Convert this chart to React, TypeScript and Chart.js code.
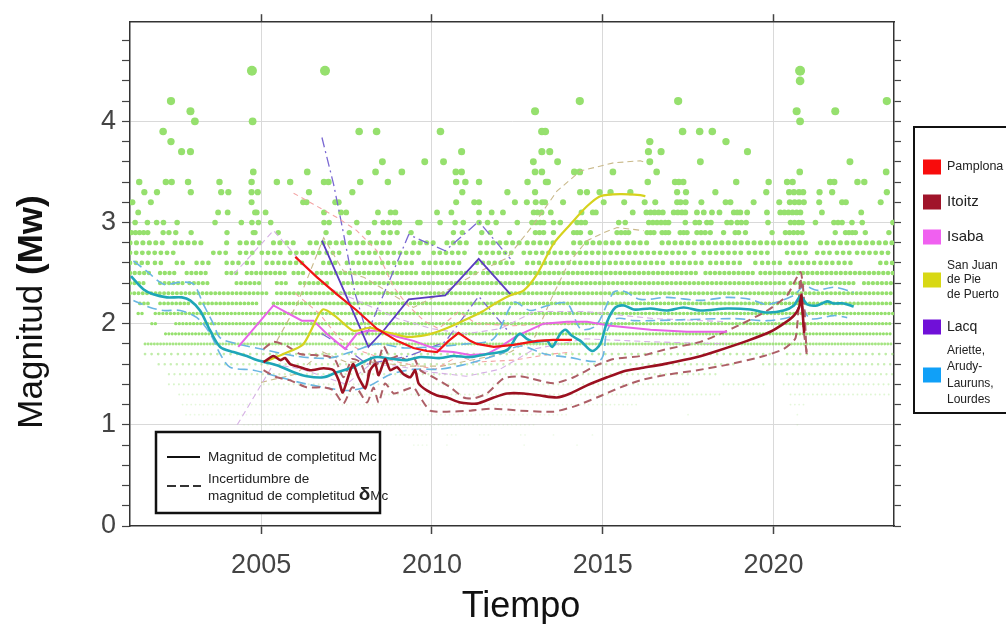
import React, { useEffect, useRef } from "react";
import { Chart, registerables } from "chart.js";

Chart.register(...registerables);

const FONT = '"Liberation Sans", Arial, Helvetica, sans-serif';

// ---------- axes ----------
const X_MIN = 2001.16;
const X_MAX = 2023.53;
const Y_MIN = 0;
const Y_MAX = 4.98;
const X_TICKS = [2005, 2010, 2015, 2020];
const Y_TICKS = [0, 0.2, 0.4, 0.6, 0.8, 1, 1.2, 1.4, 1.6, 1.8, 2, 2.2, 2.4, 2.6, 2.8, 3, 3.2, 3.4, 3.6, 3.8, 4, 4.2, 4.4, 4.6, 4.8];
const X_TITLE = "Tiempo";
const Y_TITLE_A = "Magnitud ";
const Y_TITLE_B = "(Mw)";

// ---------- legend texts ----------
const LEGEND_NAMES = [["Pamplona"], ["Itoitz"], ["Isaba"], ["San Juan", "de Pie", "de Puerto"], ["Lacq"], ["Ariette,", "Arudy-", "Lauruns,", "Lourdes"]];
const LEGEND_COLORS = ["#f80c0c", "#a0142a", "#f060f0", "#d8d814", "#7010d8", "#10a0f8"];
const KEY_SOLID = "Magnitud de completitud Mc";
const KEY_DASH_1 = "Incertidumbre de";
const KEY_DASH_2 = "magnitud de completitud ";
const KEY_DELTA = "δ";
const KEY_MC = "Mc";

// ---------- earthquakes (individual dots, magnitude >= 2.9) ----------
const EQ_4_5 = [2004.73, 2006.87, 2020.78];
const EQ_4_4 = [2020.78];
const EQ_4_2 = [2002.36, 2014.33, 2017.21, 2023.32];
const EQ_4_1 = [2002.93, 2013.02, 2020.68, 2021.81];
const EQ_4_0 = [2003.06, 2004.75, 2020.78];
const EQ_3_9 = [2002.13, 2007.87, 2008.38, 2010.25, 2013.22, 2013.32, 2017.34, 2017.84, 2018.21];
const EQ_3_8 = [2002.36, 2016.38, 2018.61];
const EQ_3_7 = [2002.67, 2002.93, 2010.87, 2013.22, 2013.45, 2016.34, 2016.71, 2019.24];
const EQ_3_6 = [2008.55, 2009.79, 2010.34, 2012.97, 2013.68, 2016.38, 2017.86, 2022.24];
const EQ_3_5 = [2004.77, 2006.35, 2008.35, 2009.12, 2010.7, 2010.87, 2013.02, 2013.22, 2014.17, 2014.33, 2015.3, 2016.58, 2020.77, 2023.3];
const EQ_3_4 = [2001.43, 2002.21, 2002.38, 2002.86, 2003.78, 2004.72, 2005.46, 2005.85, 2006.84, 2006.97, 2007.9, 2008.71, 2010.71, 2010.98, 2011.38, 2012.8, 2013.34, 2013.39, 2016.32, 2017.12, 2017.23, 2017.36, 2018.91, 2019.86, 2020.4, 2020.56, 2021.66, 2021.78, 2022.46, 2022.66];
const EQ_3_3 = [2001.58, 2001.95, 2002.94, 2003.83, 2004.04, 2004.72, 2004.9, 2006.4, 2007.67, 2010.89, 2012.21, 2013.02, 2014.34, 2014.54, 2014.91, 2015.23, 2015.81, 2017.18, 2017.44, 2018.3, 2019.79, 2020.46, 2020.6, 2020.75, 2020.87, 2021.35, 2021.72, 2023.32];
const EQ_3_2 = [2001.23, 2001.77, 2004.72, 2006.23, 2006.33, 2007.17, 2007.27, 2010.71, 2011.24, 2011.38, 2012.43, 2012.78, 2013.04, 2013.23, 2013.31, 2013.84, 2015.03, 2015.63, 2016.23, 2016.54, 2017.18, 2017.28, 2017.43, 2017.89, 2018.6, 2018.74, 2019.42, 2020.17, 2020.48, 2020.62, 2020.75, 2020.89, 2021.34, 2022.01, 2022.12, 2023.14];
const EQ_3_1 = [2001.4, 2003.74, 2004.02, 2004.82, 2004.87, 2005.13, 2006.84, 2007.34, 2007.49, 2008.42, 2008.79, 2008.93, 2010.15, 2010.57, 2011.38, 2011.75, 2012.08, 2012.98, 2013.09, 2013.21, 2013.48, 2014.38, 2014.71, 2014.8, 2015.88, 2016.28, 2016.4, 2016.52, 2016.64, 2016.76, 2017.08, 2017.2, 2017.32, 2017.42, 2017.76, 2017.96, 2018.2, 2018.42, 2018.84, 2018.94, 2019.03, 2019.23, 2019.81, 2020.2, 2020.32, 2020.44, 2020.56, 2020.68, 2020.79, 2021.42, 2022.57];
const EQ_3_0 = [2001.31, 2001.67, 2001.94, 2002.14, 2002.54, 2003.65, 2004.42, 2004.73, 2004.92, 2005.28, 2006.84, 2006.99, 2007.8, 2008.32, 2008.57, 2008.72, 2008.91, 2009.05, 2009.59, 2009.65, 2010.24, 2010.68, 2010.92, 2011.38, 2011.63, 2011.88, 2012.5, 2012.93, 2013.05, 2013.17, 2013.27, 2013.56, 2013.76, 2014.25, 2014.37, 2014.49, 2015.47, 2015.66, 2016.35, 2016.47, 2016.59, 2016.71, 2016.83, 2016.93, 2017.42, 2017.71, 2017.83, 2018.05, 2018.17, 2018.64, 2018.76, 2018.94, 2019.06, 2019.2, 2019.84, 2020.5, 2020.62, 2020.74, 2020.84, 2021.23, 2021.77, 2021.89, 2022.01, 2022.3, 2022.6, 2023.5];
const EQ_2_9 = [2001.2, 2001.32, 2001.44, 2001.56, 2001.68, 2002.13, 2002.3, 2002.5, 2002.95, 2004.0, 2004.77, 2004.82, 2005.5, 2006.9, 2007.58, 2008.14, 2008.58, 2008.78, 2008.98, 2009.39, 2010.63, 2010.89, 2011.46, 2011.71, 2012.27, 2013.03, 2013.15, 2013.27, 2013.56, 2014.15, 2014.25, 2014.35, 2014.64, 2015.42, 2015.54, 2015.66, 2015.76, 2016.3, 2016.4, 2016.5, 2016.74, 2016.84, 2016.93, 2017.27, 2017.37, 2017.47, 2017.76, 2017.88, 2018.0, 2018.15, 2018.54, 2018.88, 2018.98, 2019.18, 2019.96, 2020.35, 2020.47, 2020.59, 2020.71, 2020.84, 2021.81, 2022.11, 2022.21, 2022.31, 2022.4, 2022.69, 2023.38];

const EQ_GROUPS: [number, number[]][] = [
  [4.5, EQ_4_5], [4.4, EQ_4_4], [4.2, EQ_4_2], [4.1, EQ_4_1], [4.0, EQ_4_0], [3.9, EQ_3_9], [3.8, EQ_3_8],
  [3.7, EQ_3_7], [3.6, EQ_3_6], [3.5, EQ_3_5], [3.4, EQ_3_4], [3.3, EQ_3_3], [3.2, EQ_3_2], [3.1, EQ_3_1],
  [3.0, EQ_3_0], [2.9, EQ_2_9],
];

// ---------- dense rows of earthquakes (year spans where dots are continuous) ----------
const ROW_2_8: [number, number][] = [[2001.16, 2002.23], [2002.48, 2003.26], [2003.99, 2004.09], [2004.38, 2004.97], [2005.36, 2005.55], [2005.75, 2006.04], [2006.43, 2006.63], [2006.82, 2007.41], [2007.61, 2008.0], [2008.19, 2008.88], [2009.47, 2010.05], [2010.44, 2011.03], [2011.42, 2012.59], [2012.79, 2013.57], [2014.15, 2015.52], [2015.72, 2016.44], [2016.74, 2017.71], [2017.91, 2018.2], [2018.3, 2019.52], [2019.62, 2021.13], [2021.38, 2021.77], [2021.96, 2023.5]];
const ROW_2_7: [number, number][] = [[2001.16, 2002.43], [2003.6, 2003.99], [2004.38, 2004.87], [2005.02, 2005.65], [2005.85, 2006.24], [2006.34, 2006.73], [2006.92, 2007.41], [2007.8, 2009.76], [2010.05, 2011.03], [2011.42, 2012.4], [2012.69, 2013.96], [2014.15, 2017.47], [2017.67, 2017.71], [2017.96, 2019.13], [2019.28, 2019.91], [2020.4, 2020.99], [2021.28, 2021.77], [2021.86, 2022.26], [2022.45, 2023.43]];
const ROW_2_6: [number, number][] = [[2001.16, 2001.75], [2001.89, 2002.23], [2002.53, 2002.82], [2003.11, 2003.5], [2003.99, 2004.38], [2004.58, 2004.87], [2005.16, 2005.75], [2005.85, 2006.24], [2006.82, 2007.21], [2007.51, 2009.47], [2009.76, 2010.93], [2011.32, 2012.4], [2012.79, 2016.88], [2017.03, 2018.06], [2018.15, 2019.03], [2019.47, 2019.52], [2019.67, 2020.3], [2020.5, 2021.28], [2021.38, 2021.77], [2021.91, 2022.35], [2023.13, 2023.5]];
const ROW_2_5: [number, number][] = [[2001.16, 2001.75], [2002.04, 2002.53], [2002.82, 2003.41], [2003.99, 2004.38], [2004.58, 2005.75], [2005.95, 2006.34], [2006.63, 2009.6], [2009.75, 2011.3], [2011.5, 2017.86], [2018.01, 2019.47], [2019.62, 2023.5]];
const ROW_2_4: [number, number][] = [[2001.16, 2001.6], [2002.04, 2002.72], [2002.9, 2003.5], [2004.28, 2004.97], [2005.46, 2005.75], [2006.14, 2007.02], [2007.41, 2020.4], [2020.5, 2022.45], [2022.65, 2023.5]];
const ROW_2_3: [number, number][] = [[2001.16, 2005.26], [2005.46, 2023.5]];
const ROW_2_2: [number, number][] = [[2001.45, 2001.75], [2002.04, 2002.92], [2003.21, 2004.97], [2005.36, 2023.5]];
const ROW_2_1: [number, number][] = [[2001.4, 2001.6], [2001.9, 2023.5]];
const ROW_2_0: [number, number][] = [[2001.8, 2002.0], [2002.5, 2023.5]];
const ROW_1_9: [number, number][] = [[2002.2, 2023.5]];
const ROW_1_8: [number, number][] = [[2001.6, 2023.5]];
const ROW_1_7: [number, number][] = [[2001.6, 2019.9], [2020.4, 2023.5]];
const ROW_1_6: [number, number][] = [[2002.0, 2019.0], [2019.7, 2023.5]];
const ROW_1_5: [number, number][] = [[2002.3, 2018.35], [2020.4, 2023.5]];
const ROW_1_4: [number, number][] = [[2002.3, 2017.57], [2018.54, 2019.72], [2020.3, 2023.5]];
const ROW_1_3: [number, number][] = [[2002.6, 2018.54], [2020.5, 2023.5]];
const ROW_1_2: [number, number][] = [[2002.7, 2016.0], [2020.5, 2020.9]];
const ROW_1_1: [number, number][] = [[2002.8, 2014.0], [2017.5, 2017.6], [2020.7, 2020.8]];
const ROW_1_0: [number, number][] = [[2004.5, 2013.0], [2020.7, 2020.8]];
const ROW_0_9: [number, number][] = [[2008.95, 2009.9], [2010.45, 2010.75], [2011.4, 2011.7], [2012.6, 2012.8], [2013.56, 2013.6], [2014.7, 2014.75]];
const ROW_0_8: [number, number][] = [[2009.47, 2009.86], [2010.44, 2010.5], [2012.7, 2012.75], [2014.25, 2014.3]];

const ROWS: [number, [number, number][]][] = [
  [2.8, ROW_2_8], [2.7, ROW_2_7], [2.6, ROW_2_6], [2.5, ROW_2_5], [2.4, ROW_2_4], [2.3, ROW_2_3], [2.2, ROW_2_2],
  [2.1, ROW_2_1], [2.0, ROW_2_0], [1.9, ROW_1_9], [1.8, ROW_1_8], [1.7, ROW_1_7], [1.6, ROW_1_6], [1.5, ROW_1_5],
  [1.4, ROW_1_4], [1.3, ROW_1_3], [1.2, ROW_1_2], [1.1, ROW_1_1], [1.0, ROW_1_0], [0.9, ROW_0_9], [0.8, ROW_0_8],
];

// ---------- completeness magnitude curves ----------
const ARIETTE_MC: [number, number][] = [[2001.19, 2.47], [2001.55, 2.34], [2001.84, 2.29], [2002.24, 2.26], [2002.68, 2.26], [2002.92, 2.23], [2003.21, 2.13], [2003.51, 1.93], [2003.8, 1.77], [2004.19, 1.72], [2004.58, 1.68], [2004.87, 1.64], [2005.46, 1.59], [2005.95, 1.52], [2006.34, 1.48], [2006.83, 1.47], [2007.22, 1.52], [2007.7, 1.57], [2008.1, 1.64], [2008.39, 1.67], [2008.88, 1.65], [2009.27, 1.64], [2009.66, 1.67], [2010.24, 1.66], [2010.63, 1.68], [2011.12, 1.67], [2011.61, 1.7], [2012.2, 1.74], [2012.49, 1.88], [2012.59, 1.9], [2012.78, 1.85], [2012.98, 1.82], [2013.37, 1.83], [2013.52, 1.77], [2013.76, 1.9], [2013.91, 1.94], [2014.1, 1.88], [2014.35, 1.83], [2014.69, 1.73], [2014.93, 1.8], [2015.13, 2.02], [2015.37, 2.16], [2015.62, 2.18], [2015.91, 2.14], [2016.4, 2.15], [2016.89, 2.13], [2017.37, 2.16], [2017.86, 2.13], [2018.64, 2.15], [2019.33, 2.14], [2019.82, 2.11], [2020.3, 2.13], [2020.6, 2.18], [2020.79, 2.27], [2020.99, 2.19], [2021.28, 2.18], [2021.57, 2.22], [2021.77, 2.2], [2022.06, 2.2], [2022.35, 2.17]];
const ARIETTE_UP: [number, number][] = [[2001.26, 2.62], [2001.65, 2.52], [2002.14, 2.39], [2002.63, 2.41], [2003.02, 2.39], [2003.31, 2.19], [2003.6, 2.0], [2003.8, 1.86], [2004.3, 1.8], [2005.0, 1.75], [2006.0, 1.68], [2007.0, 1.66], [2007.8, 1.74], [2008.4, 1.8], [2009.2, 1.76], [2010.0, 1.77], [2011.0, 1.8], [2011.8, 1.85], [2012.4, 2.21], [2012.88, 2.13], [2013.4, 2.18], [2013.96, 2.2], [2014.35, 1.95], [2014.8, 1.98], [2015.32, 2.31], [2015.62, 2.32], [2016.1, 2.24], [2016.89, 2.26], [2017.86, 2.23], [2018.64, 2.26], [2019.33, 2.24], [2019.82, 2.19], [2020.6, 2.28], [2020.89, 2.37], [2021.28, 2.33], [2021.77, 2.36], [2022.35, 2.31]];
const ARIETTE_LO: [number, number][] = [[2001.26, 2.23], [2001.75, 2.16], [2002.14, 2.13], [2002.63, 2.13], [2003.12, 2.06], [2003.51, 1.9], [2003.8, 1.7], [2004.09, 1.57], [2004.78, 1.54], [2005.56, 1.47], [2006.24, 1.41], [2007.02, 1.36], [2007.61, 1.34], [2008.19, 1.39], [2008.8, 1.5], [2009.5, 1.55], [2010.2, 1.55], [2011.0, 1.6], [2012.0, 1.7], [2012.59, 1.78], [2013.3, 1.7], [2013.96, 1.67], [2014.93, 1.64], [2015.13, 1.93], [2015.42, 2.05], [2015.91, 2.03], [2016.4, 2.03], [2018.84, 2.05], [2019.82, 2.03], [2020.6, 2.08], [2020.79, 2.18], [2021.08, 2.05], [2021.77, 2.08], [2022.16, 2.06]];

const ITOITZ_MC: [number, number][] = [[2005.07, 1.62], [2005.36, 1.68], [2005.56, 1.64], [2005.7, 1.66], [2005.85, 1.6], [2006.14, 1.57], [2006.44, 1.54], [2006.83, 1.56], [2007.12, 1.54], [2007.27, 1.44], [2007.39, 1.32], [2007.61, 1.54], [2007.7, 1.6], [2007.85, 1.47], [2008.05, 1.36], [2008.19, 1.54], [2008.34, 1.6], [2008.44, 1.49], [2008.63, 1.65], [2008.78, 1.54], [2008.98, 1.57], [2009.17, 1.5], [2009.37, 1.47], [2009.51, 1.54], [2009.61, 1.41], [2009.85, 1.34], [2010.15, 1.29], [2010.44, 1.27], [2010.83, 1.22], [2011.32, 1.21], [2011.81, 1.27], [2012.2, 1.31], [2012.69, 1.31], [2013.17, 1.29], [2013.66, 1.27], [2014.05, 1.31], [2014.54, 1.39], [2015.13, 1.47], [2015.62, 1.53], [2016.1, 1.56], [2016.79, 1.6], [2017.77, 1.67], [2018.35, 1.73], [2019.23, 1.83], [2019.91, 1.92], [2020.3, 2.0], [2020.6, 2.08], [2020.75, 2.16], [2020.82, 2.28], [2020.85, 2.13], [2020.9, 1.91]];
const ITOITZ_UP: [number, number][] = [[2005.07, 1.75], [2005.36, 1.82], [2005.75, 1.78], [2006.14, 1.7], [2006.53, 1.69], [2006.92, 1.68], [2007.17, 1.64], [2007.41, 1.47], [2007.66, 1.65], [2007.9, 1.62], [2008.1, 1.47], [2008.24, 1.68], [2008.4, 1.6], [2008.58, 1.78], [2008.78, 1.66], [2009.02, 1.68], [2009.27, 1.64], [2009.46, 1.67], [2009.66, 1.54], [2010.05, 1.47], [2010.54, 1.37], [2010.93, 1.27], [2011.22, 1.26], [2011.61, 1.31], [2012.1, 1.46], [2012.59, 1.48], [2012.88, 1.46], [2013.56, 1.41], [2014.15, 1.47], [2014.83, 1.59], [2015.32, 1.65], [2016.1, 1.68], [2016.89, 1.75], [2017.86, 1.82], [2018.84, 1.96], [2019.82, 2.13], [2020.4, 2.28], [2020.79, 2.51], [2020.89, 2.26], [2020.97, 1.7]];
const ITOITZ_LO: [number, number][] = [[2005.07, 1.54], [2005.46, 1.47], [2005.85, 1.44], [2006.34, 1.37], [2006.83, 1.37], [2007.12, 1.34], [2007.41, 1.21], [2007.66, 1.37], [2007.85, 1.34], [2008.1, 1.22], [2008.29, 1.37], [2008.44, 1.22], [2008.63, 1.41], [2008.88, 1.31], [2009.17, 1.34], [2009.46, 1.37], [2009.66, 1.27], [2009.95, 1.14], [2010.44, 1.13], [2011.12, 1.14], [2011.81, 1.16], [2012.59, 1.14], [2013.56, 1.13], [2014.15, 1.18], [2014.83, 1.27], [2015.52, 1.37], [2016.1, 1.44], [2016.79, 1.49], [2017.77, 1.54], [2018.74, 1.6], [2019.72, 1.68], [2020.3, 1.75], [2020.65, 1.86], [2020.79, 2.45], [2020.88, 1.95], [2020.97, 1.72]];

const PAMPLONA_MC: [number, number][] = [[2006.0, 2.66], [2006.63, 2.46], [2007.22, 2.29], [2007.8, 2.13], [2008.39, 1.95], [2008.98, 1.83], [2009.46, 1.76], [2009.85, 1.73], [2010.15, 1.72], [2010.49, 1.83], [2010.78, 1.91], [2011.12, 1.83], [2011.32, 1.8], [2011.81, 1.77], [2012.39, 1.79], [2013.08, 1.83], [2013.56, 1.84], [2014.1, 1.84]];
const PAMPLONA_UP: [number, number][] = [[2005.95, 3.29], [2006.53, 3.18], [2007.22, 3.05], [2007.8, 2.92], [2008.39, 2.72], [2008.88, 2.36], [2009.27, 2.19], [2009.76, 2.03], [2010.2, 1.95], [2010.78, 2.12], [2011.3, 2.0], [2012.4, 1.98], [2013.5, 2.0], [2014.1, 2.0]];
const PAMPLONA_LO: [number, number][] = [[2006.0, 2.3], [2006.7, 2.1], [2007.3, 1.85], [2008.0, 1.72], [2008.6, 1.65], [2009.3, 1.6], [2010.1, 1.55], [2010.78, 1.68], [2011.3, 1.62], [2012.4, 1.64], [2013.5, 1.7], [2014.1, 1.72]];

const ISABA_MC: [number, number][] = [[2004.33, 1.77], [2005.36, 2.18], [2006.19, 2.03], [2006.53, 2.03], [2006.92, 1.9], [2007.46, 1.75], [2007.8, 1.9], [2008.1, 1.93], [2008.49, 1.93], [2008.98, 1.87], [2009.46, 1.83], [2009.95, 1.77], [2010.24, 1.73], [2010.63, 1.72], [2011.12, 1.69], [2011.61, 1.7], [2012.0, 1.77], [2012.49, 1.88], [2013.27, 2.0], [2013.96, 2.02], [2014.54, 2.02], [2015.23, 1.98], [2016.4, 1.94], [2017.47, 1.92], [2018.64, 1.92]];
const ISABA_UP: [number, number][] = [[2004.2, 2.49], [2005.36, 2.92], [2006.2, 2.6], [2007.0, 2.35], [2008.0, 2.2], [2009.0, 2.05], [2010.0, 1.95], [2011.0, 1.9], [2012.0, 1.95], [2013.0, 2.12], [2014.5, 2.12], [2016.5, 2.05], [2018.6, 2.02]];
const ISABA_LO: [number, number][] = [[2004.3, 1.0], [2005.36, 1.6], [2006.2, 1.55], [2007.5, 1.4], [2008.2, 1.6], [2009.0, 1.58], [2010.0, 1.52], [2011.0, 1.48], [2012.0, 1.55], [2013.0, 1.75], [2014.5, 1.85], [2016.5, 1.82], [2018.6, 1.8]];

const SANJUAN_MC: [number, number][] = [[2005.07, 1.62], [2005.65, 1.7], [2006.24, 1.8], [2006.8, 2.14], [2007.22, 2.06], [2007.7, 1.93], [2008.19, 1.96], [2008.49, 1.93], [2008.88, 1.9], [2009.27, 1.87], [2009.85, 1.89], [2010.24, 1.93], [2010.73, 2.0], [2011.42, 2.11], [2011.9, 2.21], [2012.3, 2.28], [2012.69, 2.33], [2013.08, 2.49], [2013.56, 2.79], [2014.05, 2.98], [2014.54, 3.16], [2014.93, 3.26], [2015.52, 3.28], [2016.1, 3.27], [2016.25, 3.26]];
const SANJUAN_UP: [number, number][] = [[2005.46, 1.83], [2006.05, 2.19], [2006.83, 2.85], [2007.41, 2.52], [2008.0, 2.46], [2008.49, 2.36], [2009.46, 2.16], [2010.44, 2.33], [2011.42, 2.52], [2012.2, 2.65], [2012.98, 2.98], [2013.66, 3.31], [2014.35, 3.51], [2015.32, 3.59], [2016.1, 3.61], [2016.3, 3.59]];
const SANJUAN_LO: [number, number][] = [[2005.0, 1.42], [2006.0, 1.5], [2006.8, 1.72], [2007.5, 1.62], [2008.3, 1.62], [2009.3, 1.58], [2010.3, 1.58], [2011.3, 1.65], [2012.3, 1.72], [2013.0, 1.86], [2013.5, 2.25], [2014.0, 2.6], [2014.54, 2.82], [2015.03, 2.9], [2015.42, 2.95], [2016.2, 2.92]];

const LACQ_MC: [number, number][] = [[2006.78, 2.82], [2007.51, 2.26], [2008.14, 1.77], [2008.58, 1.93], [2009.32, 2.24], [2010.39, 2.28], [2011.37, 2.64], [2012.3, 2.29]];
const LACQ_UP: [number, number][] = [[2006.78, 3.84], [2007.12, 3.38], [2007.36, 2.98], [2007.75, 2.3], [2008.1, 1.9], [2008.6, 2.3], [2009.32, 2.88], [2010.39, 2.72], [2011.37, 3.01], [2012.3, 2.64]];
const LACQ_LO: [number, number][] = [[2006.78, 1.9], [2007.5, 1.75], [2008.1, 1.6], [2009.32, 1.68], [2010.39, 1.82], [2011.37, 2.27], [2012.3, 1.9]];

// ---------- styling helpers ----------
const dotRadius = (m: number) => Math.max(0.9, 1.1 * m - 0.5);
const dotAlpha = (m: number) =>
  m >= 1.9 ? 1 : m >= 1.8 ? 0.85 : m >= 1.7 ? 0.6 : m >= 1.6 ? 0.5 : m >= 1.5 ? 0.42 : m >= 1.4 ? 0.36 : m >= 1.3 ? 0.3 : m >= 1.2 ? 0.25 : m >= 1.1 ? 0.2 : 0.15;
const green = (a: number) => `rgba(150, 224, 110, ${a})`;

function curve(pts: [number, number][], color: string, width: number, dash: number[], order: number, tension = 0) {
  return {
    data: pts.map(([x, y]) => ({ x, y })),
    showLine: true,
    borderColor: color,
    backgroundColor: color,
    borderWidth: width,
    borderDash: dash,
    pointRadius: 0,
    tension,
    order,
    fill: false,
  };
}

function buildDatasets() {
  const rowSets = ROWS.map(([m, segs]) => {
    const data: any[] = [];
    segs.forEach(([a, b]) => {
      data.push({ x: a, y: m });
      data.push({ x: Math.max(b, a + 0.03), y: m });
      data.push({ x: Math.max(b, a + 0.03) + 0.005, y: null });
    });
    const d = 2 * dotRadius(m);
    const gap = m >= 2.6 ? d * 1.25 : m >= 1.8 ? d * 1.05 : d * 2.4;
    return {
      data,
      showLine: true,
      spanGaps: false,
      borderColor: green(dotAlpha(m)),
      borderWidth: d,
      borderDash: [0, gap],
      borderCapStyle: "round",
      pointRadius: 0,
      order: 40,
    };
  });
  const points = {
    data: EQ_GROUPS.flatMap(([m, xs]) => xs.map((x) => ({ x, y: m }))),
    pointRadius: (c: any) => (c.raw ? (c.raw.y >= 4.45 ? 5 : dotRadius(c.raw.y)) : 2),
    pointBackgroundColor: green(1),
    pointBorderWidth: 0,
    showLine: false,
    order: 35,
  };
  return [
    ...rowSets,
    points,
    curve(PAMPLONA_UP, "#f4a4a4", 1.1, [5, 4], 12),
    curve(PAMPLONA_LO, "#f4a4a4", 1.1, [5, 4], 12),
    curve(ISABA_UP, "#d6b0e6", 1.1, [6, 4], 12),
    curve(ISABA_LO, "#d6b0e6", 1.1, [6, 4], 12),
    curve(SANJUAN_UP, "#c9b98a", 1.1, [6, 4], 12),
    curve(SANJUAN_LO, "#c9b98a", 1.1, [6, 4], 12),
    curve(LACQ_UP, "#7a68d2", 1.3, [10, 4, 2, 4], 12),
    curve(LACQ_LO, "#7a68d2", 1.3, [10, 4, 2, 4], 12),
    curve(ARIETTE_UP, "#6ab6e2", 1.6, [10, 5], 11, 0.3),
    curve(ARIETTE_LO, "#6ab6e2", 1.6, [10, 5], 11, 0.3),
    curve(ITOITZ_UP, "#ad5f66", 2, [8, 5], 10, 0.2),
    curve(ITOITZ_LO, "#ad5f66", 2, [8, 5], 10, 0.2),
    curve(ISABA_MC, "#e864e6", 2, [], 5),
    curve(LACQ_MC, "#5a3cc0", 1.8, [], 4),
    curve(SANJUAN_MC, "#d6d21e", 2.2, [], 3, 0.25),
    curve(PAMPLONA_MC, "#f01414", 2.2, [], 2),
    curve(ARIETTE_MC, "#1ea6b8", 2.6, [], 2, 0.3),
    curve(ITOITZ_MC, "#9b1020", 2.6, [], 1, 0.2),
  ];
}

const annotationPlugin = {
  id: "annotations",
  afterDraw(chart: any) {
    const ctx = chart.ctx as CanvasRenderingContext2D;
    ctx.save();

    // x title
    ctx.fillStyle = "#111";
    ctx.font = `36px ${FONT}`;
    ctx.textAlign = "center";
    ctx.textBaseline = "alphabetic";
    ctx.fillText(X_TITLE, 521, 617);

    // y title (rotated, mixed weight)
    ctx.save();
    ctx.translate(42, 312);
    ctx.rotate(-Math.PI / 2);
    const fA = `35px ${FONT}`;
    const fB = `bold 35px ${FONT}`;
    ctx.font = fA;
    const wA = ctx.measureText(Y_TITLE_A).width;
    ctx.font = fB;
    const wB = ctx.measureText(Y_TITLE_B).width;
    const x0 = -(wA + wB) / 2;
    ctx.textAlign = "left";
    ctx.font = fA;
    ctx.fillText(Y_TITLE_A, x0, 0);
    ctx.font = fB;
    ctx.fillText(Y_TITLE_B, x0 + wA, 0);
    ctx.restore();

    // right legend
    ctx.fillStyle = "#fff";
    ctx.fillRect(914, 127, 100, 286);
    ctx.lineWidth = 2;
    ctx.strokeStyle = "#111";
    ctx.strokeRect(914, 127, 100, 286);
    const centers = [167, 202, 237, 280, 327, 375];
    const sizes = [12.5, 15, 15, 12, 14, 12];
    const lineGaps = [0, 0, 0, 14.5, 0, 16.5];
    ctx.textAlign = "left";
    ctx.textBaseline = "middle";
    LEGEND_NAMES.forEach((lines, i) => {
      ctx.fillStyle = LEGEND_COLORS[i];
      ctx.fillRect(923, centers[i] - 7.5, 18, 15);
      ctx.fillStyle = "#222";
      ctx.font = `${sizes[i]}px ${FONT}`;
      const n = lines.length;
      lines.forEach((t, k) => {
        ctx.fillText(t, 947, centers[i] + (k - (n - 1) / 2) * lineGaps[i]);
      });
    });

    // bottom-left key
    ctx.fillStyle = "#fff";
    ctx.fillRect(156, 432, 224, 81);
    ctx.lineWidth = 2.5;
    ctx.strokeStyle = "#111";
    ctx.strokeRect(156, 432, 224, 81);
    ctx.lineWidth = 2;
    ctx.beginPath();
    ctx.moveTo(167, 457);
    ctx.lineTo(200, 457);
    ctx.stroke();
    ctx.setLineDash([9, 4]);
    ctx.strokeStyle = "#333";
    ctx.beginPath();
    ctx.moveTo(167, 486);
    ctx.lineTo(201, 486);
    ctx.stroke();
    ctx.setLineDash([]);
    ctx.fillStyle = "#222";
    ctx.font = `13.5px ${FONT}`;
    ctx.fillText(KEY_SOLID, 208, 457);
    ctx.fillText(KEY_DASH_1, 208, 479);
    ctx.fillText(KEY_DASH_2, 208, 496);
    const w2 = ctx.measureText(KEY_DASH_2).width;
    ctx.font = `bold 19px ${FONT}`;
    ctx.fillText(KEY_DELTA, 208 + w2, 495);
    const wd = ctx.measureText(KEY_DELTA).width;
    ctx.font = `13.5px ${FONT}`;
    ctx.fillText(KEY_MC, 208 + w2 + wd, 496);

    ctx.restore();
  },
};

export default function App() {
  const ref = useRef<HTMLCanvasElement | null>(null);

  useEffect(() => {
    document.body.style.margin = "0";
    const canvas = ref.current;
    if (!canvas) return;
    const border = { display: true, color: "#333", width: 1.5 };
    const chart = new Chart(canvas, {
      type: "scatter",
      data: { datasets: buildDatasets() as any },
      plugins: [annotationPlugin],
      options: {
        animation: false,
        responsive: false,
        devicePixelRatio: 1,
        events: [],
        layout: { padding: 0 },
        plugins: { legend: { display: false }, tooltip: { enabled: false } },
        scales: {
          x: {
            type: "linear",
            position: "bottom",
            min: X_MIN,
            max: X_MAX,
            afterBuildTicks: (s: any) => {
              s.ticks = X_TICKS.map((v) => ({ value: v }));
            },
            afterFit: (s: any) => {
              s.height = 98;
            },
            ticks: {
              autoSkip: false,
              maxRotation: 0,
              padding: 15,
              color: "#444",
              font: { size: 27, family: FONT },
              callback: (v: any) => String(v),
            },
            grid: { color: "#d9d9d9", lineWidth: 1, tickColor: "#444", tickLength: 8, tickWidth: 1.5 },
            border,
          },
          x2: {
            type: "linear",
            position: "top",
            min: X_MIN,
            max: X_MAX,
            afterBuildTicks: (s: any) => {
              s.ticks = X_TICKS.map((v) => ({ value: v }));
            },
            afterFit: (s: any) => {
              s.height = 21;
            },
            ticks: { display: false },
            grid: { drawOnChartArea: false, tickColor: "#444", tickLength: 8, tickWidth: 1.5 },
            border,
          },
          y: {
            type: "linear",
            position: "left",
            min: Y_MIN,
            max: Y_MAX,
            afterBuildTicks: (s: any) => {
              s.ticks = Y_TICKS.map((v) => ({ value: v }));
            },
            afterFit: (s: any) => {
              s.width = 130;
            },
            ticks: {
              autoSkip: false,
              padding: 6,
              color: "#444",
              font: { size: 27, family: FONT },
              callback: (v: any) => (Math.abs(v - Math.round(v)) < 1e-6 ? String(Math.round(v)) : ""),
            },
            grid: {
              color: (c: any) => {
                const v = c.tick ? c.tick.value : 0.5;
                return v > 0 && Math.abs(v - Math.round(v)) < 1e-6 ? "#d9d9d9" : "rgba(0,0,0,0)";
              },
              lineWidth: 1,
              tickColor: "#444",
              tickLength: 8,
              tickWidth: 1.2,
            },
            border,
          },
          y2: {
            type: "linear",
            position: "right",
            min: Y_MIN,
            max: Y_MAX,
            afterBuildTicks: (s: any) => {
              s.ticks = Y_TICKS.map((v) => ({ value: v }));
            },
            afterFit: (s: any) => {
              s.width = 112;
            },
            ticks: { display: false },
            grid: { drawOnChartArea: false, tickColor: "#444", tickLength: 7, tickWidth: 1.2 },
            border,
          },
        },
      } as any,
    });
    return () => chart.destroy();
  }, []);

  return <canvas ref={ref} width={1006} height={624} style={{ display: "block" }} />;
}
